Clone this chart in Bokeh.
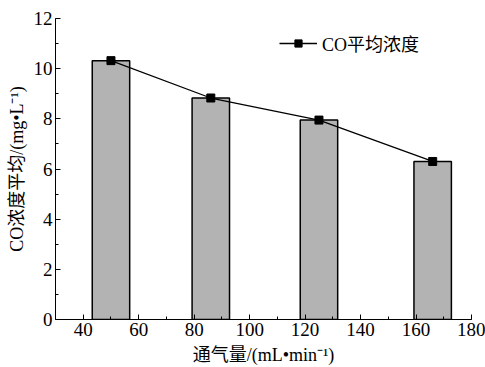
from bokeh.plotting import figure
from bokeh.models import Range1d, SingleIntervalTicker, Legend, LegendItem
from bokeh.embed import file_html
from bokeh.resources import INLINE

# Data
flow = [50, 86, 125, 166]           # 通气量 mL/min
co_avg = [10.32, 8.83, 7.95, 6.30]  # CO平均浓度 mg/L
x_label = "通气量/(mL•min⁻¹)"
y_label = "CO浓度平均/(mg•L⁻¹)"
legend_label = "CO平均浓度"

FONT = "'Liberation Serif', 'Times New Roman', 'Noto Sans CJK SC', serif"

p = figure(width=485, height=367, output_backend="svg", toolbar_location=None,
           x_range=Range1d(30, 180), y_range=Range1d(0, 12),
           min_border_left=55, min_border_right=14, min_border_top=18,
           min_border_bottom=47)
p.outline_line_color = None
p.xgrid.visible = False
p.ygrid.visible = False
p.background_fill_color = "white"
p.border_fill_color = "white"

p.vbar(x=flow, top=co_avg, width=13.5, fill_color="#b3b3b3",
       line_color="black", line_width=1.5)
r_line = p.line(flow, co_avg, line_color="black", line_width=1.3)
r_sq = p.scatter(flow, co_avg, marker="square", size=8, fill_color="black",
                 line_color="black")

for ax, ticker in ((p.xaxis[0], SingleIntervalTicker(interval=20, num_minor_ticks=2)),
                   (p.yaxis[0], SingleIntervalTicker(interval=2, num_minor_ticks=2))):
    ax.ticker = ticker
    ax.major_tick_in = 5
    ax.major_tick_out = 0
    ax.minor_tick_in = 3
    ax.minor_tick_out = 0
    ax.axis_line_color = "black"
    ax.axis_line_width = 1
    ax.major_tick_line_color = "black"
    ax.minor_tick_line_color = "black"
    ax.major_label_text_font = FONT
    ax.major_label_text_font_size = "19px"
    ax.major_label_text_color = "black"
    ax.axis_label_text_font = FONT
    ax.axis_label_text_font_size = "18px"
    ax.axis_label_text_font_style = "normal"
    ax.axis_label_text_color = "black"
    ax.major_label_standoff = 3

p.xaxis.axis_label = x_label
p.yaxis.axis_label = y_label
p.xaxis.axis_label_standoff = 6
p.yaxis.axis_label_standoff = 4

legend = Legend(items=[LegendItem(label=legend_label, renderers=[r_line, r_sq])],
                location=(224, 263), glyph_width=38, glyph_height=18,
                label_height=18, label_standoff=5, padding=0, margin=0,
                spacing=0, border_line_alpha=0, background_fill_alpha=0,
                label_text_font=FONT, label_text_font_size="18px",
                label_text_color="black")
p.add_layout(legend)

open("out.html", "w").write(file_html(p, INLINE))
